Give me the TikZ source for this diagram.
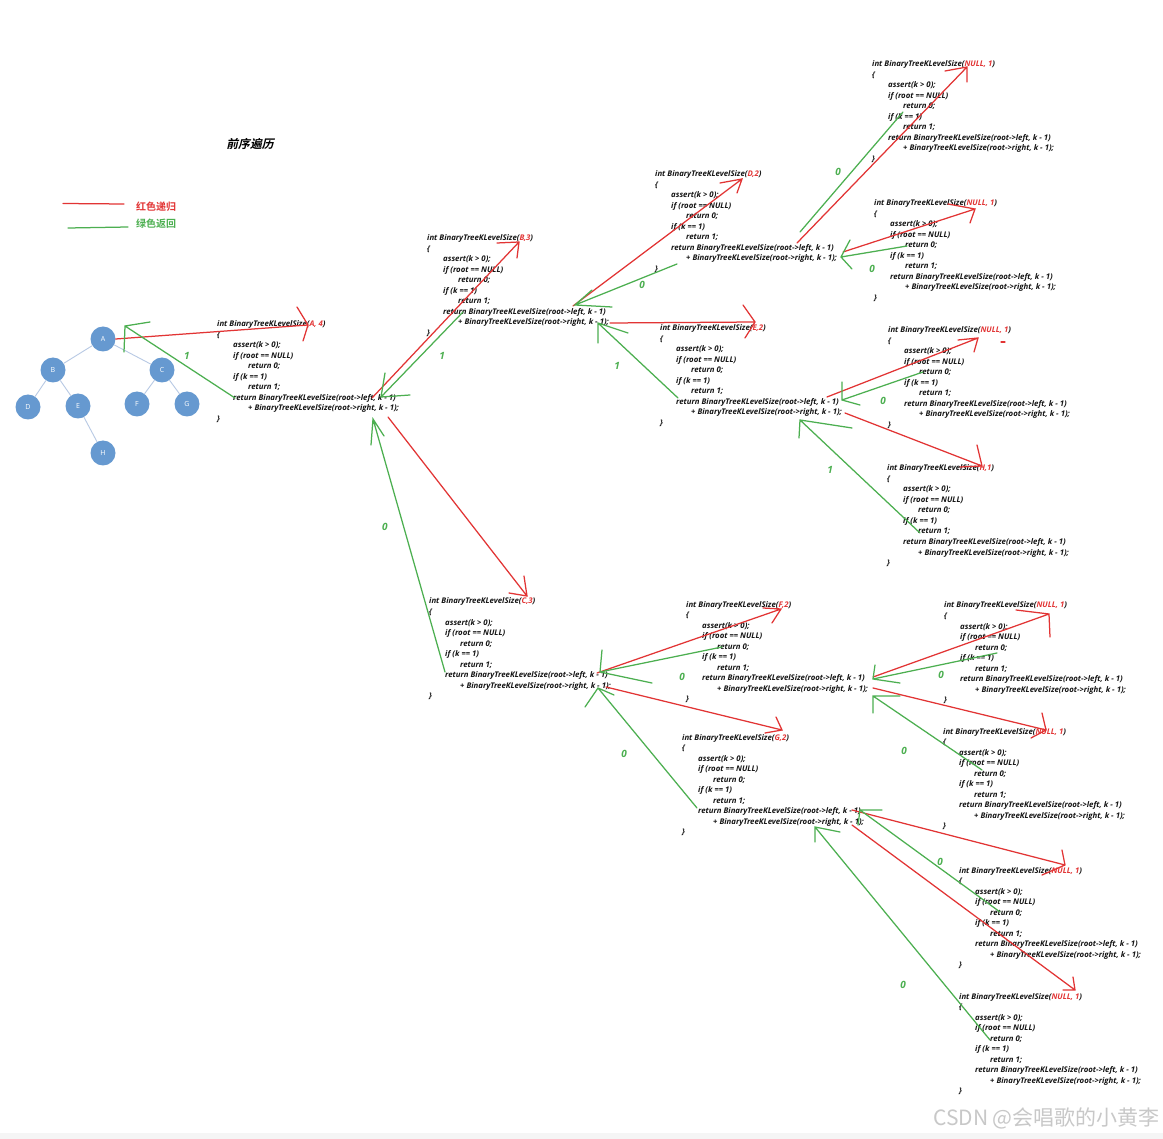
\documentclass[tikz,border=0pt]{standalone}
\usepackage{fontspec}
\setmainfont{Open Sans}
\newfontfamily\cjk{Noto Sans CJK SC}[BoldFont={* Bold}]
\newfontfamily\cjktitle{Noto Sans CJK SC Bold}[FakeSlant=0.22]
\definecolor{callred}{RGB}{226,52,52}
\definecolor{backgreen}{RGB}{76,175,80}
\definecolor{treeblue}{RGB}{102,153,208}
\definecolor{edgeblue}{RGB}{184,201,228}
\definecolor{codeblack}{RGB}{20,20,20}
\definecolor{markgray}{RGB}{200,200,200}
\newcommand\codefont{\fontsize{7.8}{9}\selectfont\bfseries\itshape}
\tikzset{
  code/.style={font=\codefont, text=codeblack, inner sep=0pt, anchor=base west},
  tnode/.style={circle, fill=treeblue, minimum size=25pt, inner sep=0pt, text=white, font=\fontsize{7}{8}\selectfont},
  tedge/.style={draw=edgeblue, line width=0.9pt},
  recur/.style={draw=callred, line width=1.25pt, line cap=round},
  back/.style={draw=backgreen, line width=1.25pt, line cap=round},
  retval/.style={text=backgreen, font=\fontsize{10}{12}\selectfont\bfseries\itshape, inner sep=0pt}
}
% one call of the function, drawn as its source text
\newcommand\kblock[4]{%
  \node[code] (#1-h) at (#2,#3) {int BinaryTreeKLevelSize(\textcolor{callred}{#4})};
  \node[code] (#1-o) at (#2,#3+10.5) {\{};
  \node[code] (#1-a) at (#2+16,#3+21) {assert(k > 0);};
  \node[code] (#1-n) at (#2+16,#3+31.5) {if (root == NULL)};
  \node[code] (#1-z) at (#2+31,#3+42) {return 0;};
  \node[code] (#1-k) at (#2+16,#3+52.5) {if (k == 1)};
  \node[code] (#1-u) at (#2+31,#3+63) {return 1;};
  \node[code] (#1-l) at (#2+16,#3+73.5) {return BinaryTreeKLevelSize(root->left, k - 1)};
  \node[code] (#1-r) at (#2+31,#3+84) {+ BinaryTreeKLevelSize(root->right, k - 1);};
  \node[code] (#1-c) at (#2,#3+94.5) {\}};
}
% hand drawn arrow: style, name, start, tip, barb, barb
\newcommand\hstroke[6]{%
  \coordinate (#2-s) at (#3);
  \coordinate (#2-t) at (#4);
  \coordinate (#2-b) at (#5);
  \coordinate (#2-c) at (#6);
  \draw[#1] (#2-s) -- (#2-t) (#2-b) -- (#2-t) -- (#2-c);
}
\begin{document}
\begin{tikzpicture}[x=1pt, y=-1pt]
\useasboundingbox (0,0) rectangle (1163,1139);
\fill[white] (0,0) rectangle (1163,1139);
\fill[black!4] (0,1133) rectangle (1163,1139);

% title and legend
\node[font=\cjktitle\fontsize{11.8}{13}\selectfont, inner sep=0pt] (title) at (250,144) {前序遍历};
\coordinate (lr1) at (63,203.5);
\coordinate (lr2) at (124,204);
\coordinate (lg1) at (68,228);
\coordinate (lg2) at (128,227);
\draw[recur] (lr1) -- (lr2);
\draw[back] (lg1) -- (lg2);
\node[font=\cjk\fontsize{10}{12}\selectfont\bfseries, text=callred, anchor=west, inner sep=0pt] (legred) at (136,207) {红色递归};
\node[font=\cjk\fontsize{10}{12}\selectfont\bfseries, text=backgreen, anchor=west, inner sep=0pt] (leggreen) at (136,224) {绿色返回};

% the tree
\node[tnode] (A) at (103,339) {A};
\node[tnode] (B) at (53,370) {B};
\node[tnode] (C) at (162,370) {C};
\node[tnode] (D) at (28,407) {D};
\node[tnode] (E) at (78,406) {E};
\node[tnode] (F) at (137,404) {F};
\node[tnode] (G) at (187,404) {G};
\node[tnode] (H) at (103,453) {H};
\foreach \p/\q in {A/B, A/C, B/D, B/E, C/F, C/G, E/H}
  \draw[tedge] (\p) -- (\q);

% the calls
\kblock{A4}{217}{327}{A, 4}
\kblock{B3}{427}{241}{B,3}
\kblock{D2}{655}{177}{D,2}
\kblock{N1}{872}{67}{NULL, 1}
\kblock{N2}{874}{206}{NULL, 1}
\kblock{E2}{660}{331}{E,2}
\kblock{N3}{888}{333}{NULL, 1}
\kblock{H1}{887}{471}{H,1}
\kblock{C3}{429}{604}{C,3}
\kblock{F2}{686}{607}{F,2}
\kblock{N4}{944}{608}{NULL, 1}
\kblock{N5}{943}{734}{NULL, 1}
\kblock{G2}{682}{740}{G,2}
\kblock{N6}{959}{873}{NULL, 1}
\kblock{N7}{959}{999}{NULL, 1}

% red: going down
\hstroke{recur}{ra}{A.east}{308,325}{297,307}{303,341}
\hstroke{recur}{rb}{372,398}{519,242}{497,243}{517,258}
\hstroke{recur}{rd}{573,306}{742,179}{720,183}{737,193}
\hstroke{recur}{rn1}{797,243}{967,67}{945,71}{967,82}
\hstroke{recur}{rn2}{843,252}{975,209}{948,204}{970,223}
\hstroke{recur}{re}{610,323}{755,322}{743,305}{745,338}
\hstroke{recur}{rn3}{827,397}{978,338}{958,340}{974,352}
\hstroke{recur}{rh}{845,413}{982,466}{977,445}{960,467}
\hstroke{recur}{rc}{388,417}{527,596}{509,593}{524,576}
\hstroke{recur}{rf}{597,673}{781,609}{763,608}{772,623}
\hstroke{recur}{rn4}{873,677}{1049,614}{1016,610}{1050,637}
\hstroke{recur}{rn5}{873,688}{1046,730}{1042,713}{1031,738}
\hstroke{recur}{rg}{606,687}{782,730}{776,717}{765,733}
\hstroke{recur}{rn6}{852,810}{1065,865}{1062,850}{1042,875}
\hstroke{recur}{rn7}{852,825}{1075,990}{1073,977}{1063,990}
\coordinate (dash1) at (1001,342);
\coordinate (dash2) at (1005,342);
\draw[recur] (dash1) -- (dash2);

% green: coming back
\hstroke{back}{ga}{235,398}{125,326}{124,352}{150,322}
\hstroke{back}{gb}{463,312}{381,397}{385,373}{410,395}
\hstroke{back}{gc}{445,672}{373,419}{371,445}{384,436}
\hstroke{back}{gd}{677,264}{575,305}{592,290}{612,307}
\coordinate (gn1-s) at (903,112);
\coordinate (gn1-t) at (800,232);
\draw[back] (gn1-s) -- (gn1-t);
\hstroke{back}{gn2}{907,246}{841,257}{850,240}{852,269}
\hstroke{back}{ge}{678,398}{598,323}{598,343}{628,333}
\hstroke{back}{gn3}{923,372}{842,400}{842,382}{860,405}
\hstroke{back}{gh}{920,533}{800,420}{799,438}{852,428}
\hstroke{back}{gf}{722,647}{600,672}{602,650}{652,683}
\hstroke{back}{gg}{697,808}{598,688}{585,707}{614,695}
\hstroke{back}{gn4}{997,653}{873,679}{875,665}{900,683}
\hstroke{back}{gn5}{982,770}{873,696}{873,713}{900,696}
\hstroke{back}{gn6}{1000,912}{860,810}{858,825}{882,810}
\hstroke{back}{gn7}{990,1040}{815,827}{815,842}{840,832}

% returned values
\foreach \x/\y/\v [count=\i] in {187/356/1, 442/356/1, 385/527/0, 642/285/0,
    838/172/0, 872/269/0, 617/366/1, 883/401/0, 830/470/1, 682/677/0,
    624/754/0, 941/675/0, 904/751/0, 940/862/0, 903/985/0}
  \node[retval] (v\i) at (\x,\y) {\v};

% watermark
\node[font=\cjk\fontsize{21}{24}\selectfont, text=markgray, anchor=east, inner sep=0pt] (mark) at (1160,1118) {CSDN @会唱歌的小黄李};
\end{tikzpicture}
\end{document}
